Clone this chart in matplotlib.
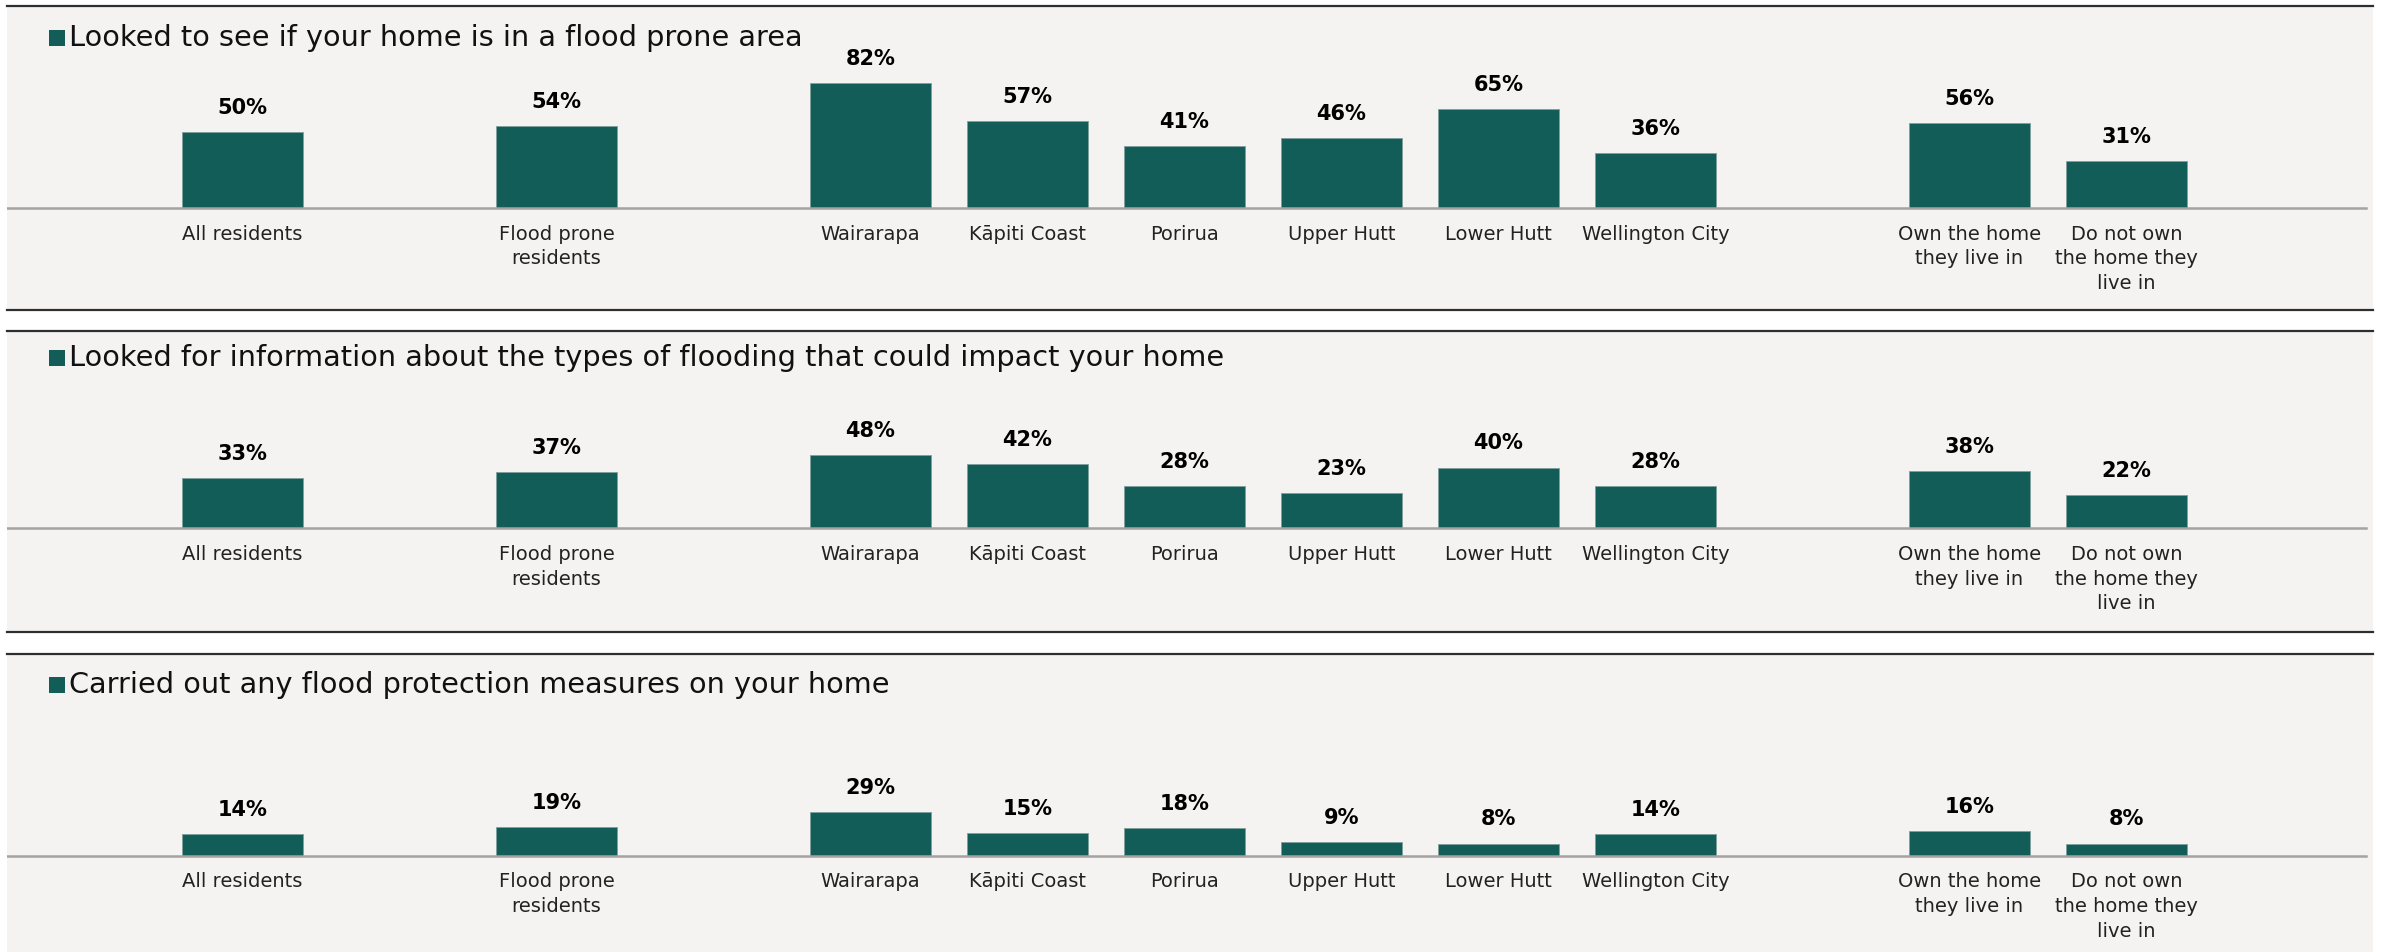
import matplotlib.pyplot as plt

# survey groups, split into the blocks shown side by side
overall = ["All residents"]
flood_prone = ["Flood prone\nresidents"]
regions = ["Wairarapa", "Kāpiti Coast", "Porirua", "Upper Hutt", "Lower Hutt", "Wellington City"]
tenure = ["Own the home\nthey live in", "Do not own\nthe home they\nlive in"]

titles = [
    "Looked to see if your home is in a flood prone area",
    "Looked for information about the types of flooding that could impact your home",
    "Carried out any flood protection measures on your home",
]

looked_area = [50, 54, 82, 57, 41, 46, 65, 36, 56, 31]
looked_info = [33, 37, 48, 42, 28, 23, 40, 28, 38, 22]
protection = [14, 19, 29, 15, 18, 9, 8, 14, 16, 8]

BAR = "#125d57"
BG = "#f4f3f1"
LINE = "#2e2e2e"
BASE = "#a8a1a1"

# x positions: one empty slot between blocks
labels, xpos = [], []
x = 0
for block in [overall, flood_prone, regions, tenure]:
    for name in block:
        labels.append(name)
        xpos.append(x)
        x += 1
    x += 1

W, H = 2381, 952
fig = plt.figure(figsize=(W / 100, H / 100), dpi=100)
fig.patch.set_facecolor("white")

# panel boxes in pixels (top, bottom) and y-limits that put the baseline in place
boxes = [(6, 310), (331, 632), (654, 952)]
ylims = [(-67.2, 133.0), (-68.3, 129.9), (-63.4, 132.8)]
title_y = [0.895, 0.910, 0.896]

for i, values in enumerate([looked_area, looked_info, protection]):
    top, bottom = boxes[i]
    ax = fig.add_axes([7 / W, 1 - bottom / H, (2373 - 7) / W, (bottom - top) / H])
    ax.set_facecolor(BG)
    ax.set_xlim(-1.5, 13.57)
    ax.set_ylim(*ylims[i])

    bars = ax.bar(xpos, values, width=0.766, color=BAR, edgecolor="#7fa19d",
                  linewidth=0.6, zorder=3)
    ax.axhline(0, xmin=0, xmax=0.997, color=BASE, lw=1.8, zorder=4)

    for rect, v in zip(bars, values):
        ax.annotate(f"{v}%", (rect.get_x() + rect.get_width() / 2, v),
                    xytext=(0, 13), textcoords="offset points",
                    ha="center", va="baseline", fontsize=15, fontweight="bold",
                    color="black")

    # category names hang just under the baseline
    for xp, name in zip(xpos, labels):
        ax.annotate(name, (xp, 0), xytext=(0, -12), textcoords="offset points",
                    ha="center", va="top", fontsize=14, color="#222222",
                    linespacing=1.38, multialignment="center")

    ax.set_xticks([])
    ax.set_yticks([])

    for side in ["left", "right"]:
        ax.spines[side].set_visible(False)
    for side in ["top", "bottom"]:
        ax.spines[side].set_color(LINE)
        ax.spines[side].set_linewidth(1.6)
    if i == 2:
        ax.spines["bottom"].set_visible(False)

    # legend-style heading
    ax.plot([0.0211], [title_y[i]], marker="s", ms=11.5, color=BAR, mew=0,
            transform=ax.transAxes, clip_on=False)
    ax.text(0.0264, title_y[i], titles[i], transform=ax.transAxes,
            ha="left", va="center", fontsize=20.7, color="#111111")

fig.savefig("out.png", dpi=100, facecolor=fig.get_facecolor())
